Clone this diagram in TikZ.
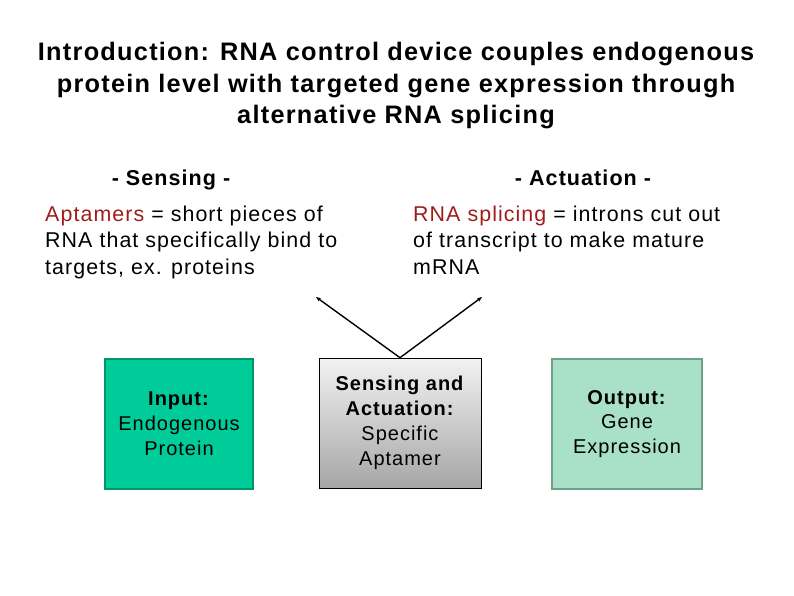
\documentclass[tikz,border=0pt]{standalone}
\usepackage{fontspec}
\setmainfont{Liberation Sans}[LetterSpace=5]
\usepackage{tikz}
\usetikzlibrary{arrows.meta}

\definecolor{inputfill}{RGB}{0,204,153}
\definecolor{inputline}{RGB}{0,150,105}
\definecolor{outputfill}{RGB}{168,224,200}
\definecolor{outputline}{RGB}{110,160,140}
\definecolor{keyred}{RGB}{160,28,28}

\tikzset{
	box/.style={draw, line width=1.2pt, minimum width=148pt, minimum height=130pt,
		align=center, inner sep=2pt, font=\fontsize{20}{24.8}\selectfont},
	head/.style={anchor=base, inner sep=0pt, font=\bfseries\fontsize{21.5}{24}\selectfont},
	body/.style={anchor=north west, align=left, inner sep=0pt,
		font=\fontsize{21.4}{26.5}\selectfont},
}

\begin{document}
\begin{tikzpicture}[x=1pt, y=-1pt]
	
	\useasboundingbox (0,0) rectangle (794,595);
	
	\node[font=\bfseries\fontsize{25.3}{31.5}\selectfont, align=center] (title) at (396,86)
		{Introduction: RNA control device couples endogenous\\
		 protein level with targeted gene expression through\\
		 alternative RNA splicing};
	
	\node[head] (sensehead) at (171,185) {- Sensing -};
	\node[head] (acthead)   at (583,185) {- Actuation -};
	
	\node[body] (sensetext) at (45,205.5)
		{\textcolor{keyred}{Aptamers} = short pieces of\\
		 RNA that specifically bind to\\
		 targets, ex. proteins};
	\node[body] (acttext) at (413,205.5)
		{\textcolor{keyred}{RNA splicing} = introns cut out\\
		 of transcript to make mature\\
		 mRNA};
	
	\node[box, fill=inputfill, draw=inputline] (input) at (179,424)
		{\textbf{Input:}\\Endogenous\\Protein};
	\node[box, minimum width=162pt, line width=0.6pt, draw=black,
		top color=black!5, bottom color=black!35] (device) at (400,423)
		{\textbf{Sensing and}\\\textbf{Actuation:}\\Specific\\Aptamer};
	\node[box, fill=outputfill, draw=outputline, minimum width=150pt] (output) at (627,424)
		{\textbf{Output:}\\Gene\\Expression};
	
	\coordinate (sensetip) at (316,297);
	\coordinate (acttip)   at (482,297);
	
	\path[-{Stealth[length=5pt,width=4pt]}, line width=1.4pt] (device.north) edge (sensetip);
	\path[-{Stealth[length=5pt,width=4pt]}, line width=1.4pt] (device.north) edge (acttip);
	
\end{tikzpicture}
\end{document}
